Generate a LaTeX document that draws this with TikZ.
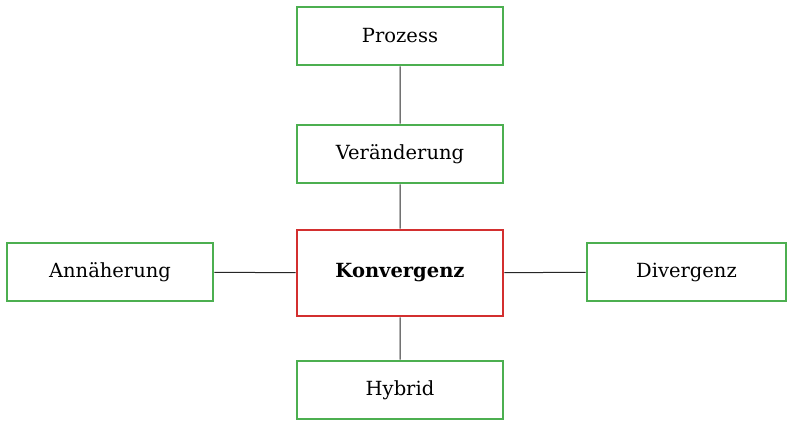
\documentclass[tikz,border=0pt]{standalone}
\usepackage{fontspec}
\setmainfont{DejaVu Serif}
\usepackage{tikz}

\definecolor{boxgreen}{RGB}{76,175,80}
\definecolor{boxred}{RGB}{211,47,47}

\begin{document}
\begin{tikzpicture}[x=1pt,y=1pt]
        \useasboundingbox (0,0) rectangle (788,421);
        \tikzstyle{every node}=[draw=boxgreen,shape=rectangle,line width=2.6pt,text=black,font=\fontsize{19.5}{23}\selectfont,minimum width=206pt,minimum height=58pt,inner sep=0pt]
        \tikzstyle{core}=[draw=boxred,minimum height=86pt,font=\fontsize{19.5}{23}\selectfont\bfseries]
            \node (prozess) at (400,385) {Prozess};
            \node (veraenderung) at (400,267) {Veränderung};
            \node[core] (konvergenz) at (400,148) {Konvergenz};
            \node (annaeherung) at (110,149) {Annäherung};
            \node[minimum width=199pt] (divergenz) at (686.5,149) {Divergenz};
            \node (hybrid) at (400,31) {Hybrid};

            \draw[line width=1pt,color=black!85] (prozess) -- (veraenderung)
            (veraenderung) -- (konvergenz)
            (konvergenz) -- (hybrid)
            (annaeherung) -- (konvergenz)
            (konvergenz) -- (divergenz)
            ;
        \end{tikzpicture}
\end{document}
